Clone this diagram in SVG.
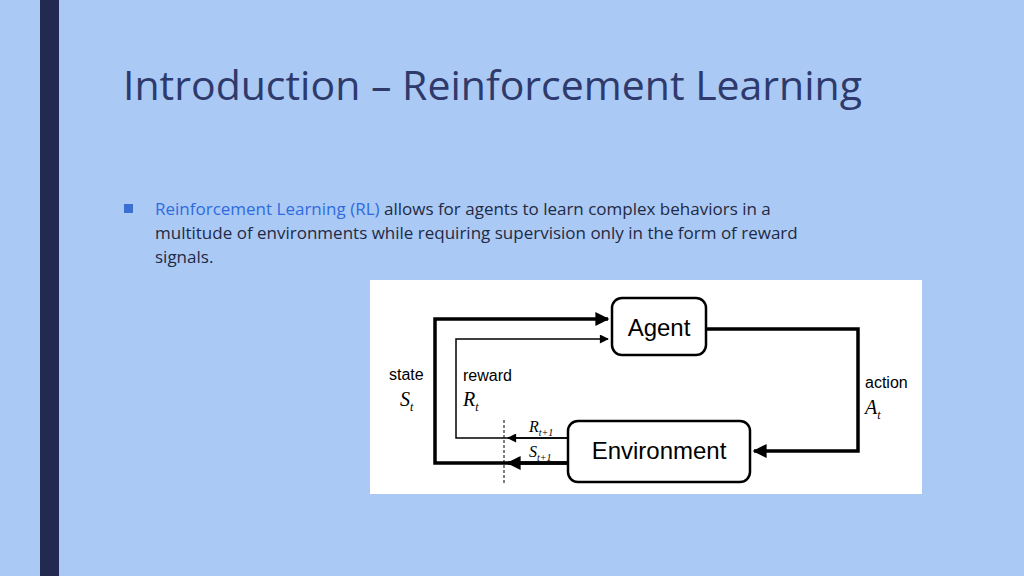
<svg xmlns="http://www.w3.org/2000/svg" width="1024" height="576" viewBox="0 0 1024 576">
<style>
.t{font-family:"Liberation Sans",Arial,sans-serif;}
.b{font-family:"Open Sans","Liberation Sans",sans-serif;font-size:17px;fill:#1f2a44}
.m{font-family:"Liberation Serif",serif;font-style:italic;fill:#000}
.box{fill:#fff;stroke:#000;stroke-width:2.5}
.thick{fill:none;stroke:#000;stroke-width:3.5}
.thin{fill:none;stroke:#000;stroke-width:1.5}
</style>
<defs>
<marker id="ah" viewBox="0 0 10 10" refX="9" refY="5" markerWidth="6" markerHeight="4.5" markerUnits="userSpaceOnUse" orient="auto"><path d="M0,0L10,5L0,10z"/></marker>
<marker id="aL" viewBox="0 0 10 10" refX="9" refY="5" markerWidth="20" markerHeight="14" markerUnits="userSpaceOnUse" orient="auto"><path d="M0,0L10,5L0,10z"/></marker>
<marker id="aS" viewBox="0 0 10 10" refX="9" refY="5" markerWidth="13" markerHeight="9" markerUnits="userSpaceOnUse" orient="auto"><path d="M0,0L10,5L0,10z"/></marker>
</defs>
<rect width="1024" height="576" fill="#abc9f5"/>
<rect x="40" y="0" width="19" height="576" fill="#222a52"/>
<text x="123" y="100" font-family="Open Sans, Liberation Sans, sans-serif" font-size="41" fill="#2e3a6b">Introduction – Reinforcement Learning</text>
<rect x="124" y="204" width="9" height="9" fill="#3b6fd1"/>
<text class="b" x="155" y="215"><tspan fill="#2f6be0">Reinforcement Learning (RL)</tspan> allows for agents to learn complex behaviors in a</text>
<text class="b" x="155" y="239">multitude of environments while requiring supervision only in the form of reward</text>
<text class="b" x="155" y="263">signals.</text>
<rect x="370" y="280" width="552" height="214" fill="#fff"/>
<g id="connectors">
<path class="thick" d="M568,463H435V319H608" marker-end="url(#aL)"/>
<path class="thin" d="M568,438H456V339H608" marker-end="url(#aS)"/>
<path class="thick" d="M706,329H858V451H754" marker-end="url(#aL)"/>
<path class="thick" d="M568,463H508" marker-end="url(#aL)"/>
<path class="thin" d="M568,438H508" marker-end="url(#aS)"/>
<line x1="504" y1="420" x2="504" y2="483" stroke="#000" stroke-width="1" stroke-dasharray="3,2"/>
</g>
<g id="agent"><rect class="box" x="612" y="298" width="94" height="57" rx="10"/>
<text class="t" x="659" y="336" font-size="24" text-anchor="middle">Agent</text></g>
<g id="environment"><rect class="box" x="568" y="421" width="182" height="61" rx="10"/>
<text class="t" x="659" y="459" font-size="24" text-anchor="middle">Environment</text></g>
<g id="labels">
<text class="t" x="389" y="380" font-size="16">state</text>
<text class="m" x="400" y="406" font-size="20">S<tspan font-size="12" dy="5">t</tspan></text>
<text class="t" x="463" y="381" font-size="16">reward</text>
<text class="m" x="463" y="406" font-size="20">R<tspan font-size="12" dy="5">t</tspan></text>
<text class="t" x="865" y="388" font-size="16">action</text>
<text class="m" x="865" y="414" font-size="20">A<tspan font-size="12" dy="5">t</tspan></text>
<text class="m" x="529" y="432" font-size="16">R<tspan font-size="10" dy="4">t+1</tspan></text>
<text class="m" x="529" y="457" font-size="16">S<tspan font-size="10" dy="4">t+1</tspan></text>
</g>
</svg>
